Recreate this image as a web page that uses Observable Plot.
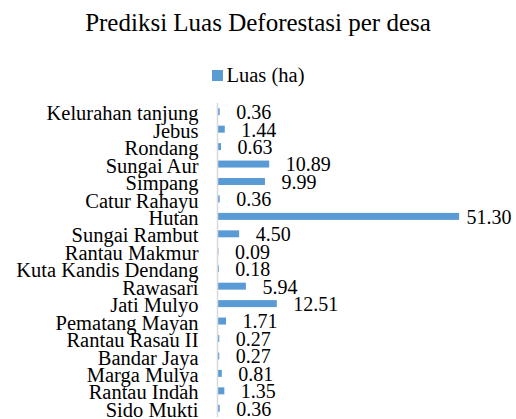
<!DOCTYPE html>
<html>
<head>
<meta charset="utf-8">
<script src="https://cdn.jsdelivr.net/npm/d3@7"></script>
<script src="https://cdn.jsdelivr.net/npm/@observablehq/plot@0.6"></script>
</head>
<body style="margin:0;background:#fff;font-family:'Liberation Serif'">
<div style="width:516px;font-family:'Liberation Serif'">
  <div style="height:40px;padding-top:8px;box-sizing:border-box;text-align:center;font-size:25px;line-height:30px;color:#000;font-family:'Liberation Serif'">Prediksi Luas Deforestasi per desa</div>
  <div style="margin-top:23px;height:25px;display:flex;justify-content:center;align-items:center;font-size:20.5px;line-height:25px;color:#000;font-family:'Liberation Serif'"><span style="width:11px;height:11px;background:#5B9BD5;margin-right:4px;display:inline-block"></span><span id="legend-label"></span></div>
  <div id="chart"></div>
</div>
<script>
const categories = ["Kelurahan tanjung","Jebus","Rondang","Sungai Aur","Simpang","Catur Rahayu","Hutan","Sungai Rambut","Rantau Makmur","Kuta Kandis Dendang","Rawasari","Jati Mulyo","Pematang Mayan","Rantau Rasau II","Bandar Jaya","Marga Mulya","Rantau Indah","Sido Mukti"];
const luas = [0.36,1.44,0.63,10.89,9.99,0.36,51.30,4.50,0.09,0.18,5.94,12.51,1.71,0.27,0.27,0.81,1.35,0.36];
const seriesName = "Luas (ha)";
document.getElementById("legend-label").textContent = seriesName;

const data = categories.map((c, i) => ({desa: c, luas: luas[i]}));
const maxV = d3.max(luas);

const plot = Plot.plot({
  width: 516,
  height: 331,
  marginTop: 15,
  marginBottom: 2,
  marginLeft: 218,
  marginRight: 16,
  style: {fontFamily: "Liberation Serif", background: "#fff", color: "#000", overflow: "visible"},
  x: {domain: [0, 60], axis: null},
  y: {domain: categories, paddingInner: 0.6, paddingOuter: 0.3, round: false, axis: null},
  marks: [
    Plot.barX(data, {x: "luas", y: "desa", fill: "#5B9BD5"}),
    Plot.ruleX([0], {stroke: "#d9d9d9", strokeWidth: 1.5, dx: -1}),
    Plot.axisY({tickSize: 0, tickPadding: 20, fontSize: 20.5, dy: 1.5, fill: "#000", label: null}),
    Plot.text(data.filter(d => d.luas < maxV), {x: "luas", y: "desa", text: d => d.luas.toFixed(2), textAnchor: "start", dx: 16, dy: 0.5, fontSize: 20, fill: "#000"}),
    Plot.text(data.filter(d => d.luas === maxV), {x: "luas", y: "desa", text: d => d.luas.toFixed(2), textAnchor: "start", dx: 7, dy: 0.5, fontSize: 20, fill: "#000"})
  ]
});
document.getElementById("chart").appendChild(plot);
</script>
</body>
</html>
